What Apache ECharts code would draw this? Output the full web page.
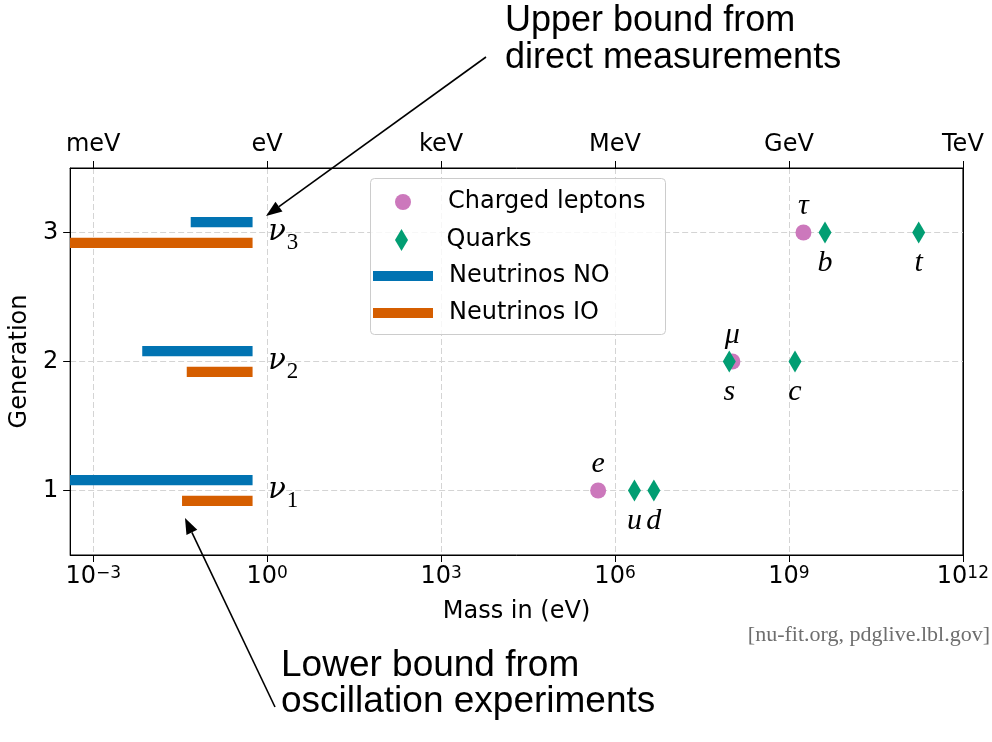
<!DOCTYPE html>
<html>
<head>
<meta charset="utf-8">
<script src="https://cdn.jsdelivr.net/npm/echarts@6/dist/echarts.min.js"></script>
<style>
  html, body { margin: 0; padding: 0; background: #ffffff; }
  #chart { width: 992px; height: 742px; }
</style>
</head>
<body>
<div id="chart"></div>
<script>
// Tick positions (eV) and the unit names shown on the top axis
const massTicks = [1e-3, 1, 1e3, 1e6, 1e9, 1e12];
const unitLabels = ['meV', 'eV', 'keV', 'MeV', 'GeV', 'TeV'];
const generationTicks = [1, 2, 3];

// Neutrino mass ranges (eV): lower bound from oscillations, upper bound from direct searches
const nuGeneration = [1, 2, 3];
const nuSubscripts = ['1', '2', '3'];
const nuLowerNO = [1e-4, 0.0070, 0.048];
const nuLowerIO = [0.034, 0.041, 1e-4];
const nuUpper = [0.56, 0.56, 0.56];

// Charged leptons (eV)
const leptonNames = ['e', 'μ', 'τ'];
const leptonMass = [5.11e5, 1.057e8, 1.777e9];
const leptonGeneration = [1, 2, 3];

// Quarks (eV)
const quarkNames = ['u', 'd', 's', 'c', 'b', 't'];
const quarkMass = [2.16e6, 4.67e6, 9.34e7, 1.27e9, 4.18e9, 1.727e11];
const quarkGeneration = [1, 1, 2, 2, 3, 3];

const SANS = 'DejaVu Sans';
const MATH = 'Liberation Serif';
const C_LEPTON = '#cc78bc';
const C_QUARK = '#029e73';
const C_NO = '#0173b2';
const C_IO = '#d55e00';

const chart = echarts.init(document.getElementById('chart'), null, { renderer: 'canvas' });

function expLabel(v) {
  const e = Math.round(Math.log10(v));
  return '10{sup|' + (e < 0 ? '\u2212' + (-e) : String(e)) + '}';
}

function unitLabel(v) {
  const e = Math.round(Math.log10(v));
  const i = massTicks.findIndex(t => Math.round(Math.log10(t)) === e);
  return i >= 0 ? unitLabels[i] : '';
}

// Horizontal band for one neutrino mass range, shifted up or down from its generation line
function bandRenderer(shift, color) {
  return function (params, api) {
    const g = api.value(2) + shift;
    const p0 = api.coord([api.value(0), g]);
    const p1 = api.coord([api.value(1), g]);
    const h = api.size([0, 0.08])[1];
    return {
      type: 'rect',
      shape: { x: p0[0], y: p0[1] - h / 2, width: p1[0] - p0[0], height: h },
      style: { fill: color }
    };
  };
}

// Straight arrow with a filled head at (x2, y2)
function arrow(x1, y1, x2, y2) {
  const ang = Math.atan2(y2 - y1, x2 - x1);
  const L = 16, W = 6;
  const bx = x2 - L * Math.cos(ang), by = y2 - L * Math.sin(ang);
  const nx = -Math.sin(ang) * W, ny = Math.cos(ang) * W;
  return [
    { type: 'line', z: 10, shape: { x1: x1, y1: y1, x2: bx, y2: by }, style: { stroke: '#000', lineWidth: 1.6 } },
    { type: 'polygon', z: 10, shape: { points: [[x2, y2], [bx + nx, by + ny], [bx - nx, by - ny]] }, style: { fill: '#000' } }
  ];
}

function legendFor(name, icon, w, h, top, left, padLeft) {
  return {
    show: true, data: [{ name: name, icon: icon }], left: left, top: top, padding: 0,
    itemWidth: w, itemHeight: h, symbolKeepAspect: true, selectedMode: false,
    textStyle: { fontFamily: SANS, fontSize: 24, color: '#000', lineHeight: 24, padding: [0, 0, 0, padLeft] },
    z: 6
  };
}

const axisFont = { fontFamily: SANS, fontSize: 24, color: '#000' };

const option = {
  animation: false,
  backgroundColor: '#ffffff',
  grid: { left: 70, right: 29, top: 168, bottom: 187, show: true, borderColor: '#000', borderWidth: 1, containLabel: false },
  legend: [
    legendFor('Charged leptons', 'circle', 60, 16, 190, 395, 10),
    legendFor('Quarks', 'path://M0,-11L6.5,0L0,11L-6.5,0Z', 60, 22, 228, 395, 10),
    legendFor('Neutrinos NO', 'rect', 60, 10, 264, 373, 11),
    legendFor('Neutrinos IO', 'rect', 60, 10, 301, 373, 11)
  ],
  xAxis: [
    {
      type: 'log', logBase: 10, min: 4e-4, max: 1e12, position: 'bottom',
      axisLine: { show: true, lineStyle: { color: '#000', width: 1 } },
      axisTick: { show: true, inside: false, length: 7, customValues: massTicks, lineStyle: { color: '#000', width: 1 } },
      axisLabel: {
        show: true, customValues: massTicks, formatter: expLabel, margin: 10,
        fontFamily: SANS, fontSize: 24, color: '#000',
        rich: { sup: { fontFamily: SANS, fontSize: 17, color: '#000', verticalAlign: 'top' } }
      },
      splitLine: { show: true, lineStyle: { color: '#d4d4d4', width: 1, type: [6, 3] } },
      minorTick: { show: false }, minorSplitLine: { show: false },
      name: 'Mass in (eV)', nameLocation: 'middle', nameGap: 45, nameTextStyle: axisFont
    },
    {
      type: 'log', logBase: 10, min: 4e-4, max: 1e12, position: 'top',
      axisLine: { show: true, lineStyle: { color: '#000', width: 1 } },
      axisTick: { show: true, inside: false, length: 7, customValues: massTicks, lineStyle: { color: '#000', width: 1 } },
      axisLabel: { show: true, customValues: massTicks, formatter: unitLabel, margin: 11, fontFamily: SANS, fontSize: 24, color: '#000' },
      splitLine: { show: false }, minorTick: { show: false }
    }
  ],
  yAxis: [
    {
      type: 'value', min: 0.5, max: 3.5, position: 'left',
      axisLine: { show: true, onZero: false, lineStyle: { color: '#000', width: 1 } },
      axisTick: { show: true, inside: false, length: 7, customValues: generationTicks, lineStyle: { color: '#000', width: 1 } },
      axisLabel: { show: true, customValues: generationTicks, margin: 12, fontFamily: SANS, fontSize: 24, color: '#000' },
      splitLine: { show: true, lineStyle: { color: '#d4d4d4', width: 1, type: [6, 3] } },
      name: 'Generation', nameLocation: 'middle', nameGap: 36, nameTextStyle: axisFont
    },
    {
      // right-hand frame edge
      type: 'value', min: 0.5, max: 3.5, position: 'right',
      axisLine: { show: true, onZero: false, lineStyle: { color: '#000', width: 1 } },
      axisTick: { show: false }, axisLabel: { show: false }, splitLine: { show: false }
    }
  ],
  graphic: [
    {
      type: 'rect', z: 5, silent: true,
      shape: { x: 370.5, y: 178.5, width: 295, height: 156, r: 4 },
      style: { fill: 'rgba(255,255,255,0.8)', stroke: '#cccccc', lineWidth: 1 }
    },
    {
      type: 'text', left: 505, top: 3, z: 10,
      style: { text: 'Upper bound from\ndirect measurements', font: '36px "Liberation Sans"', fill: '#000', lineHeight: 37 }
    },
    {
      type: 'text', left: 281, top: 647, z: 10,
      style: { text: 'Lower bound from\noscillation experiments', font: '37px "Liberation Sans"', fill: '#000', lineHeight: 36 }
    },
    {
      type: 'text', right: 2, top: 624, z: 10,
      style: { text: '[nu-fit.org, pdglive.lbl.gov]', font: '22px "Liberation Serif"', fill: '#6e6e6e' }
    },
    ...arrow(486, 57, 266, 216),
    ...arrow(275, 707, 185, 518)
  ],
  series: [
    {
      name: 'Neutrinos NO', type: 'custom', clip: true, z: 2,
      itemStyle: { color: C_NO },
      encode: { x: [0, 1], y: 2 },
      data: nuGeneration.map((g, i) => [nuLowerNO[i], nuUpper[i], g]),
      renderItem: bandRenderer(0.08, C_NO)
    },
    {
      name: 'Neutrinos IO', type: 'custom', clip: true, z: 2,
      itemStyle: { color: C_IO },
      encode: { x: [0, 1], y: 2 },
      data: nuGeneration.map((g, i) => [nuLowerIO[i], nuUpper[i], g]),
      renderItem: bandRenderer(-0.08, C_IO)
    },
    {
      name: 'Charged leptons', type: 'scatter', z: 3,
      symbol: 'circle', symbolSize: 16,
      itemStyle: { color: C_LEPTON, opacity: 1 },
      data: leptonMass.map((m, i) => [m, leptonGeneration[i], leptonNames[i]]),
      label: {
        show: true, position: 'top', distance: 3, formatter: p => p.data[2],
        fontFamily: MATH, fontStyle: 'italic', fontSize: 30, color: '#000'
      },
      emphasis: { disabled: true }
    },
    {
      name: 'Quarks', type: 'scatter', z: 4,
      symbol: 'diamond', symbolSize: [13, 22],
      itemStyle: { color: C_QUARK, opacity: 1 },
      data: quarkMass.map((m, i) => [m, quarkGeneration[i], quarkNames[i]]),
      label: {
        show: true, position: 'bottom', distance: 5, formatter: p => p.data[2],
        fontFamily: MATH, fontStyle: 'italic', fontSize: 30, color: '#000'
      },
      emphasis: { disabled: true }
    },
    {
      name: 'nu-states', type: 'scatter', z: 4, silent: true,
      symbol: 'circle', symbolSize: 2, itemStyle: { color: '#ffffff', opacity: 0 },
      data: nuGeneration.map((g, i) => [1, g, nuSubscripts[i]]),
      label: {
        show: true, position: 'right', distance: 0, opacity: 1, color: '#000',
        formatter: p => '{v|ν}{s|' + p.data[2] + '}',
        rich: {
          v: { fontFamily: 'DejaVu Serif', fontStyle: 'italic', fontSize: 29, lineHeight: 30, color: '#000', verticalAlign: 'top' },
          s: { fontFamily: MATH, fontSize: 23, lineHeight: 20, color: '#000', verticalAlign: 'top', padding: [14, 0, 0, 1] }
        }
      },
      emphasis: { disabled: true }
    }
  ]
};

chart.setOption(option);
</script>
</body>
</html>
